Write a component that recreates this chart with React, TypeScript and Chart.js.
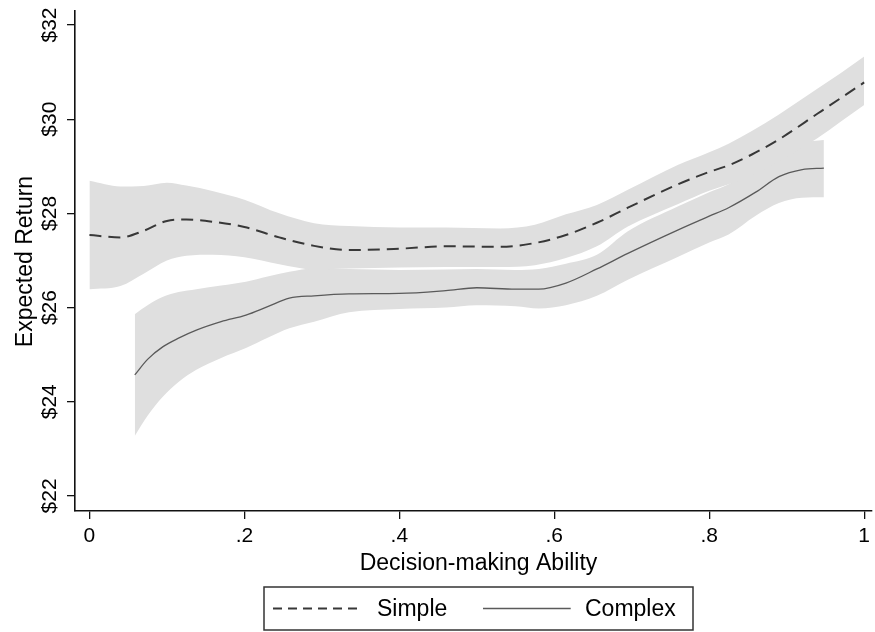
import React, { useEffect, useRef } from "react";
import { Chart, registerables } from "chart.js";

Chart.register(...registerables);

// ---- Data ----
const SIMPLE_X = [0, 0.04, 0.07, 0.1, 0.125, 0.16, 0.2, 0.245, 0.29, 0.335, 0.4, 0.46, 0.53, 0.575, 0.615, 0.655, 0.695, 0.76, 0.8, 0.825, 0.855, 0.89, 0.94, 0.97, 1.0];
const SIMPLE_MEAN = [27.54, 27.49, 27.63, 27.84, 27.87, 27.82, 27.71, 27.49, 27.31, 27.22, 27.25, 27.3, 27.29, 27.37, 27.54, 27.8, 28.12, 28.62, 28.88, 29.02, 29.25, 29.57, 30.12, 30.45, 30.78];
const SIMPLE_UPPER = [28.69, 28.57, 28.58, 28.65, 28.59, 28.47, 28.29, 28.0, 27.79, 27.73, 27.7, 27.7, 27.68, 27.76, 27.98, 28.18, 28.5, 29.03, 29.3, 29.48, 29.75, 30.1, 30.65, 30.98, 31.33];
const SIMPLE_LOWER = [26.39, 26.46, 26.72, 27.0, 27.1, 27.12, 27.07, 26.92, 26.81, 26.83, 26.85, 26.86, 26.86, 26.9, 27.05, 27.3, 27.72, 28.2, 28.48, 28.62, 28.8, 29.1, 29.6, 29.95, 30.3];

const COMPLEX_X = [0.0585, 0.075, 0.095, 0.115, 0.138, 0.17, 0.202, 0.23, 0.258, 0.29, 0.335, 0.4, 0.46, 0.5, 0.55, 0.58, 0.615, 0.655, 0.695, 0.76, 0.8, 0.825, 0.86, 0.89, 0.92, 0.948];
const COMPLEX_MEAN = [24.57, 24.9, 25.17, 25.35, 25.52, 25.7, 25.84, 26.02, 26.2, 26.25, 26.29, 26.3, 26.36, 26.42, 26.39, 26.39, 26.52, 26.82, 27.15, 27.65, 27.94, 28.12, 28.45, 28.78, 28.93, 28.96];
const COMPLEX_UPPER = [25.86, 26.05, 26.23, 26.33, 26.39, 26.47, 26.55, 26.66, 26.76, 26.83, 26.82, 26.8, 26.81, 26.82, 26.8, 26.82, 26.93, 27.12, 27.62, 28.15, 28.45, 28.62, 28.95, 29.3, 29.5, 29.56];
const COMPLEX_LOWER = [23.27, 23.7, 24.11, 24.42, 24.68, 24.93, 25.14, 25.36, 25.56, 25.7, 25.9, 25.97, 26.0, 26.05, 26.03, 25.98, 26.05, 26.25, 26.59, 27.08, 27.38, 27.55, 27.95, 28.22, 28.33, 28.34];

const X_TICKS = [0, 0.2, 0.4, 0.6, 0.8, 1];
const X_TICK_LABELS = ["0", ".2", ".4", ".6", ".8", "1"];
const Y_TICKS = [22, 24, 26, 28, 30, 32];
const Y_TICK_LABELS = ["$22", "$24", "$26", "$28", "$30", "$32"];

const SERIES_LABELS = ["Simple", "Complex"];
const X_TITLE = "Decision-making Ability";
const Y_TITLE = "Expected Return";

const X_MIN = -0.01865;
const X_MAX = 1.01029;
const Y_MIN = 21.68;
const Y_MAX = 32.297;

const FONT = "'Liberation Sans', Arial, Helvetica, sans-serif";
const BAND = "#dfdfdf";

const pts = (xs: number[], ys: number[]) => xs.map((x, i) => ({ x, y: ys[i] }));

const textPlugin = {
  id: "stataText",
  afterDraw(chart: any) {
    const ctx = chart.ctx;
    const yScale = chart.scales.y;
    const area = chart.chartArea;
    ctx.save();
    ctx.fillStyle = "#000";
    // y tick labels (rotated)
    ctx.font = `21px ${FONT}`;
    ctx.textAlign = "center";
    ctx.textBaseline = "alphabetic";
    Y_TICKS.forEach((v, i) => {
      const py = yScale.getPixelForValue(v);
      ctx.save();
      ctx.translate(55.5, py);
      ctx.rotate(-Math.PI / 2);
      ctx.fillText(Y_TICK_LABELS[i], 0, 0);
      ctx.restore();
    });
    // y title
    ctx.font = `23px ${FONT}`;
    ctx.save();
    ctx.translate(32, (area.top + area.bottom) / 2 + 0.5);
    ctx.rotate(-Math.PI / 2);
    ctx.fillText(Y_TITLE, 0, 0);
    ctx.restore();

    // x title
    const cx = area.left + 403.5;
    ctx.fillText(X_TITLE, cx, 569.5);

    // legend
    const w = 429;
    const h = 43;
    const top = 587;
    const left = cx - w / 2;
    ctx.fillStyle = "#fff";
    ctx.fillRect(left, top, w, h);
    ctx.strokeStyle = "#333";
    ctx.lineWidth = 1.5;
    ctx.strokeRect(left, top, w, h);
    const midY = top + h / 2;
    const ds = chart.data.datasets;
    const items = [
      { d: ds[0], x0: left + 9, x1: left + 98, tx: left + 113, dash: [9, 6] },
      { d: ds[1], x0: left + 219, x1: left + 306.7, tx: left + 321, dash: [] },
    ];
    ctx.font = `23px ${FONT}`;
    ctx.textAlign = "left";
    ctx.textBaseline = "middle";
    items.forEach((it) => {
      ctx.save();
      ctx.strokeStyle = it.d.borderColor;
      ctx.lineWidth = it.d.borderWidth;
      ctx.setLineDash(it.dash);
      ctx.beginPath();
      ctx.moveTo(it.x0, midY);
      ctx.lineTo(it.x1, midY);
      ctx.stroke();
      ctx.restore();
      ctx.fillStyle = "#000";
      ctx.fillText(it.d.label, it.tx, midY + 1);
    });
    ctx.restore();
  },
};

export default function App() {
  const ref = useRef<HTMLCanvasElement | null>(null);
  useEffect(() => {
    document.body.style.margin = "0";
    const canvas = ref.current;
    if (!canvas) return;
    const chart = new Chart(canvas, {
      type: "line",
      data: {
        datasets: [
          {
            label: SERIES_LABELS[0],
            data: pts(SIMPLE_X, SIMPLE_MEAN),
            borderColor: "#383838",
            borderWidth: 2,
            borderDash: [12, 7],
            pointRadius: 0,
            fill: false,
            cubicInterpolationMode: "monotone",
            order: 0,
          },
          {
            label: SERIES_LABELS[1],
            data: pts(COMPLEX_X, COMPLEX_MEAN),
            borderColor: "#5a5a5a",
            borderWidth: 1.3,
            pointRadius: 0,
            fill: false,
            cubicInterpolationMode: "monotone",
            order: 0,
          },
          {
            label: "Simple CI upper",
            data: pts(SIMPLE_X, SIMPLE_UPPER),
            borderWidth: 0,
            borderColor: "rgba(0,0,0,0)",
            backgroundColor: BAND,
            pointRadius: 0,
            fill: 3,
            cubicInterpolationMode: "monotone",
            order: 2,
          },
          {
            label: "Simple CI lower",
            data: pts(SIMPLE_X, SIMPLE_LOWER),
            borderWidth: 0,
            borderColor: "rgba(0,0,0,0)",
            pointRadius: 0,
            fill: false,
            cubicInterpolationMode: "monotone",
            order: 2,
          },
          {
            label: "Complex CI upper",
            data: pts(COMPLEX_X, COMPLEX_UPPER),
            borderWidth: 0,
            borderColor: "rgba(0,0,0,0)",
            backgroundColor: BAND,
            pointRadius: 0,
            fill: 5,
            cubicInterpolationMode: "monotone",
            order: 2,
          },
          {
            label: "Complex CI lower",
            data: pts(COMPLEX_X, COMPLEX_LOWER),
            borderWidth: 0,
            borderColor: "rgba(0,0,0,0)",
            pointRadius: 0,
            fill: false,
            cubicInterpolationMode: "monotone",
            order: 2,
          },
        ],
      },
      options: {
        animation: false,
        responsive: false,
        devicePixelRatio: 1,
        layout: { padding: { top: 11, right: 0, left: 0, bottom: 0 } },
        plugins: {
          legend: { display: false },
          tooltip: { enabled: false },
        },
        events: [],
        scales: {
          x: {
            type: "linear",
            min: X_MIN,
            max: X_MAX,
            afterBuildTicks: (s: any) => {
              s.ticks = X_TICKS.map((v) => ({ value: v }));
            },
            afterFit: (s: any) => {
              s.height = 121;
            },
            ticks: {
              callback: (_v: any, i: number) => X_TICK_LABELS[i],
              color: "#000",
              font: { size: 21, family: FONT },
              padding: 5,
              maxRotation: 0,
              minRotation: 0,
              autoSkip: false,
            },
            grid: {
              display: true,
              drawOnChartArea: false,
              drawTicks: true,
              tickLength: 8,
              color: "#111",
              lineWidth: 1.3,
            },
            border: { display: true, color: "#111", width: 1.6 },
            title: { display: false },
          },
          y: {
            type: "linear",
            min: Y_MIN,
            max: Y_MAX,
            afterBuildTicks: (s: any) => {
              s.ticks = Y_TICKS.map((v) => ({ value: v }));
            },
            afterFit: (s: any) => {
              s.width = 75;
            },
            ticks: { display: false },
            grid: {
              display: true,
              drawOnChartArea: false,
              drawTicks: true,
              tickLength: 8,
              color: "#111",
              lineWidth: 1.3,
            },
            border: { display: true, color: "#111", width: 1.6 },
          },
        },
      },
      plugins: [textPlugin],
    });
    return () => chart.destroy();
  }, []);
  return (
    <div style={{ width: 875, height: 632, background: "#fff" }}>
      <canvas ref={ref} width={875} height={632} style={{ width: 875, height: 632, display: "block" }} />
    </div>
  );
}
